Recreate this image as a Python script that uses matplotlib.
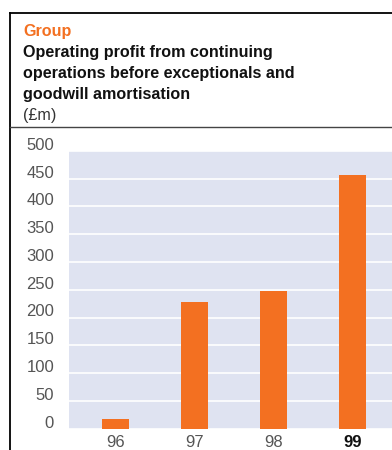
import matplotlib
matplotlib.use('Agg')
import matplotlib.pyplot as plt
import matplotlib.transforms as mtransforms
from matplotlib.lines import Line2D

plt.rcParams['font.family'] = ['Liberation Sans', 'DejaVu Sans']

# Dane
years = ['96', '97', '98', '99']
profit = [18, 228, 248, 457]
y_ticks = [0, 50, 100, 150, 200, 250, 300, 350, 400, 450, 500]

orange = '#F37021'
W, H = 392, 450

fig = plt.figure(figsize=(W / 100, H / 100), dpi=100)

# Ramka wokol wykresu
fig.add_artist(Line2D([9.5 / W, 9.5 / W], [0, 1 - 12.5 / H], color='black', lw=1.3))
fig.add_artist(Line2D([9.5 / W, 1], [1 - 12.5 / H, 1 - 12.5 / H], color='black', lw=1.3))
fig.add_artist(Line2D([9.5 / W, 1], [1 - 127 / H, 1 - 127 / H], color='#444444', lw=1.0))

# Naglowek
fs = 11.6
fig.text(23 / W, 1 - 36 / H, 'Group', color=orange, fontsize=fs, fontweight='bold')
fig.text(23 / W, 1 - 57 / H, 'Operating profit from continuing', color='#111111',
         fontsize=fs, fontweight='bold')
fig.text(23 / W, 1 - 78 / H, 'operations before exceptionals and', color='#111111',
         fontsize=fs, fontweight='bold')
fig.text(23 / W, 1 - 99 / H, 'goodwill amortisation', color='#111111',
         fontsize=fs, fontweight='bold')
fig.text(23 / W, 1 - 120 / H, '(£m)', color='#333333', fontsize=fs)

left, right = 69 / W, 1.0
bottom, top = 1 - 428.5 / H, 1 - 151 / H
ax = fig.add_axes([left, bottom, right - left, top - bottom])
ax.set_facecolor('#DFE3F1')

x = range(len(years))
ax.bar(x, profit, width=0.34, color=orange, zorder=3)

ax.set_xlim(-0.589, 3.5)
ax.set_ylim(0, 500)
ax.set_yticks(y_ticks)
ax.set_xticks(list(x))
ax.set_xticklabels(years)
ax.yaxis.grid(True, color='white', lw=1.2, zorder=1)
ax.set_axisbelow(True)
for s in ax.spines.values():
    s.set_visible(False)
ax.tick_params(axis='both', length=0, labelsize=12, colors='#555555')
ax.tick_params(axis='y', pad=10.8)
ax.tick_params(axis='x', pad=5)

offset = mtransforms.ScaledTranslation(0, 7 / 100, fig.dpi_scale_trans)
for lbl in ax.get_yticklabels():
    lbl.set_transform(lbl.get_transform() + offset)

xl = ax.get_xticklabels()
xl[-1].set_fontweight('bold')
xl[-1].set_color('#111111')

fig.savefig('out.png', dpi=100)
